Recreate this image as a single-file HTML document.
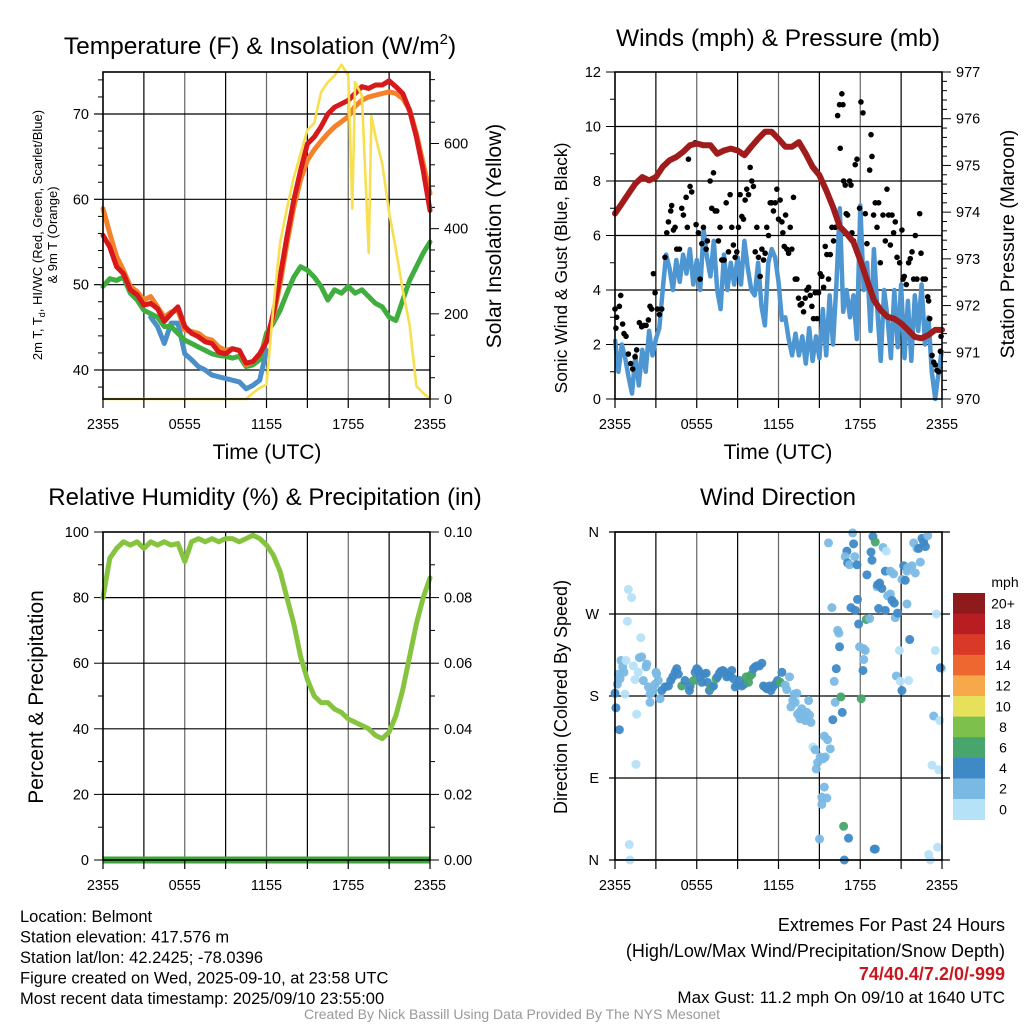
<!DOCTYPE html>
<html><head><meta charset="utf-8"><style>
body{margin:0;background:#fff;}
svg{display:block;font-family:"Liberation Sans",Arial,sans-serif;}
</style></head><body>
<svg id="fig" width="1024" height="1024" viewBox="0 0 1024 1024"></svg>
<script>
// ---------- DATA ----------
const halfHours = [];
for (let i = 0; i <= 48; i++) halfHours.push(i * 0.5);
const xTickLabels = ["2355","0555","1155","1755","2355"];
const xTickHours = [0,6,12,18,24];

const tempRed = [55.8,54.4,52.1,51.3,49.4,48.8,47.6,47.8,47.2,45.7,46.6,47.4,45.1,44.3,43.9,43.3,43.1,42.1,41.9,42.5,42.3,40.8,41.0,41.9,43.3,46.6,50.9,55.6,59.9,63.4,66.5,67.3,68.5,70.0,70.8,71.2,71.6,72.4,73.2,73.0,73.4,73.4,73.9,73.2,72.4,70.4,67.3,63.4,58.7];
const tempOrange = [58.9,56.0,53.3,51.7,49.8,49.2,48.2,48.6,47.4,46.2,46.8,47.0,44.7,44.5,44.3,43.7,43.5,42.7,42.3,42.5,42.3,40.6,41.0,41.9,43.5,46.2,50.1,54.8,59.1,62.3,64.6,65.8,66.8,67.7,68.5,69.1,69.7,70.9,71.6,72.0,72.2,72.4,72.6,72.4,71.8,70.5,67.7,64.2,60.7];
const tempGreen = [49.8,50.7,50.5,50.9,49.0,48.2,47.0,46.6,46.2,45.1,45.1,44.3,43.5,43.1,42.7,42.3,41.9,41.7,41.6,41.4,41.6,40.4,40.6,41.2,44.3,45.5,47.0,49.0,50.9,52.1,51.7,50.9,49.8,48.2,49.4,49.0,49.8,49.0,49.4,48.6,47.8,47.4,46.2,45.8,48.2,50.5,52.1,53.7,55.0];
const tempBlue = [null,null,null,null,null,null,null,46.2,45.1,43.1,45.5,45.5,41.9,41.2,40.4,40.0,39.4,39.2,39.0,38.8,38.6,37.8,38.2,38.8,42.3,null,null,null,null,null,null,null,null,null,null,null,null,null,null,null,null,null,null,null,null,null,null,null,null];
const solarHours = [0,10.5,11,11.5,12,12.5,13,13.5,14,14.5,15,15.5,16,16.5,17,17.5,18,18.3,18.5,19,19.5,19.7,20,20.5,21,21.5,22,22.5,23,23.5,24];
const solarValues = [0,0,14,26,34,214,367,447,520,576,632,648,720,744,760,785,760,447,744,712,343,664,616,552,439,351,255,174,30,14,0];

const pressure = [973.97,974.18,974.40,974.61,974.75,974.68,974.75,974.97,975.11,975.18,975.29,975.43,975.47,975.43,975.43,975.25,975.32,975.36,975.32,975.22,975.40,975.57,975.72,975.72,975.57,975.40,975.40,975.50,975.25,974.97,974.79,974.47,974.11,973.69,973.54,973.36,972.97,972.54,972.12,971.90,971.76,971.72,971.62,971.48,971.33,971.30,971.37,971.48,971.48];
const windSpeed = [2.2,1.0,2.0,1.5,0.8,0.2,1.6,0.5,1.8,1.0,2.5,1.6,2.2,2.6,4.0,5.3,4.8,4.0,5.1,4.3,5.3,4.6,5.5,4.2,5.1,4.0,6.2,5.2,4.5,5.8,4.0,3.3,5.3,4.0,5.0,4.2,5.2,4.2,5.8,4.8,4.0,3.8,5.0,3.4,2.7,5.0,5.5,5.2,4.3,2.9,3.0,2.2,1.6,2.4,1.6,2.3,1.3,2.6,1.4,2.3,1.5,3.3,1.6,3.8,2.0,4.2,7.0,3.2,4.0,3.0,3.8,2.2,7.1,4.0,5.0,2.5,5.5,3.3,1.4,4.0,3.0,1.5,4.0,1.9,4.2,1.5,3.6,1.4,3.8,2.5,4.2,2.0,3.0,1.0,0.0,1.0,1.8];
const gustHours = [0,0.07,0.12,0.32,0.42,0.56,0.66,0.81,0.98,1.15,1.30,1.47,1.59,1.79,1.96,2.13,2.28,2.45,2.57,2.69,2.82,2.94,3.11,3.26,3.43,3.67,3.80,3.92,4.09,4.16,4.29,4.41,4.53,4.73,4.90,5.02,5.22,5.31,5.39,5.51,5.63,5.88,5.95,6.12,6.25,6.37,6.49,6.69,6.78,6.98,7.10,7.23,7.35,7.47,7.59,7.71,7.84,8.01,8.16,8.33,8.45,8.57,8.69,8.82,8.94,9.06,9.18,9.31,9.43,9.55,9.67,9.80,9.92,10.04,10.16,10.29,10.41,10.53,10.65,10.78,10.90,11.02,11.14,11.27,11.39,11.51,11.63,11.76,11.88,12.0,12.12,12.25,12.32,12.42,12.52,12.61,12.74,12.86,12.98,13.10,13.23,13.35,13.47,13.59,13.71,13.84,13.96,14.08,14.21,14.33,14.45,14.57,14.70,14.82,14.94,15.06,15.18,15.31,15.43,15.55,15.67,15.80,15.92,16.04,16.16,16.34,16.48,16.65,16.73,16.53,16.78,16.90,16.97,17.07,17.22,17.32,17.39,17.51,17.63,17.76,17.95,18.05,18.20,18.37,18.49,18.69,18.79,18.86,18.98,19.10,19.23,19.35,19.47,19.67,19.84,19.96,20.08,20.21,20.33,20.45,20.57,20.70,20.89,21.06,21.14,21.23,21.38,21.55,21.67,21.80,21.92,22.04,22.16,22.36,22.46,22.61,22.78,22.95,23.02,23.10,23.27,23.39,23.51,23.63,23.76,23.93,23.88];
const gustValues = [3.3,2.6,3.0,3.4,3.8,2.75,2.4,2.3,1.65,1.3,1.1,1.55,1.8,2.8,2.65,2.7,2.7,2.9,3.4,3.3,4.6,3.9,3.3,3.1,3.3,5.2,6.1,6.5,6.9,7.1,6.2,6.3,5.5,5.5,7.0,6.75,7.4,6.3,8.8,7.8,7.6,9.4,6.4,6.1,4.4,5.7,6.3,5.5,5.8,8.0,7.0,8.3,6.9,6.9,5.8,6.3,5.1,5.1,7.2,5.4,7.5,6.3,5.65,5.2,5.4,6.3,7.5,6.7,6.6,7.3,7.7,7.5,8.5,8.0,7.8,5.4,6.3,5.2,4.5,5.5,5.1,5.35,6.3,6.0,7.2,7.2,6.9,7.2,7.7,6.6,7.3,6.5,6.1,5.6,6.75,5.5,5.35,6.3,5.5,7.4,4.4,4.4,3.7,3.45,3.5,3.2,3.7,4.0,4.1,3.8,3.4,2.95,3.9,2.95,3.9,4.6,4.5,4.1,5.6,5.3,4.4,5.3,6.3,5.8,6.3,10.4,10.8,11.2,10.8,9.2,8.0,7.85,6.8,6.75,8.0,7.85,6.1,5.8,8.6,8.8,7.0,10.9,10.5,6.8,5.7,8.4,9.7,8.9,6.75,7.2,6.3,7.2,5.0,6.75,5.8,7.7,6.75,5.65,6.75,6.1,6.5,5.2,5.0,6.2,4.4,4.5,4.2,5.0,5.15,5.4,4.4,6.0,4.4,6.8,5.35,4.4,4.4,3.75,3.6,2.95,1.6,1.35,1.25,1.05,1.0,2.3,1.75];

const rhValues = [80,92,95,97,96,97,95,97,96,97,96,96.5,91,97,98,97,98,97,98,98,97,98,99,98,96,93,88,80,72,62,55,50,48,48,46,45,43,42,41,40,38,37,39,44,52,62,72,80,86];
const precipValues = halfHours.map(()=>0);

const dirHours = [0,0.07,0.32,0.17,0.24,0.37,0.44,0.56,0.66,0.73,0.81,0.98,1.22,0.91,1.35,1.47,1.59,1.54,1.05,1.10,1.71,1.79,1.89,1.96,2.08,2.28,2.33,2.45,2.57,2.57,2.77,2.94,3.01,3.06,3.18,3.31,3.43,3.67,3.92,4.09,4.24,4.41,4.53,4.65,4.90,5.14,5.46,5.51,5.76,5.88,6.00,6.12,6.25,6.37,6.49,6.69,6.78,6.93,7.10,7.23,7.42,7.52,7.67,7.76,7.91,8.08,8.20,8.40,8.57,8.69,8.82,8.99,9.14,9.31,9.48,9.63,9.80,9.92,10.04,10.16,10.29,10.41,10.60,10.78,10.90,11.02,11.14,11.34,11.44,11.58,11.76,11.93,12.12,12.25,12.49,12.61,12.81,12.91,13.05,13.15,13.23,13.35,13.40,13.54,13.59,13.71,13.84,13.96,14.08,14.21,14.28,14.38,14.52,14.70,14.77,14.87,15.06,15.26,15.43,15.80,15.36,15.60,15.36,15.18,15.55,15.18,15.01,16.78,17.14,16.83,19.03,19.10,15.67,15.92,16.34,16.43,16.48,16.24,16.09,16.16,16.58,16.68,15.99,17.02,16.90,17.07,17.22,17.44,17.51,17.59,17.76,17.32,17.63,17.80,17.88,17.95,18.25,18.37,18.25,18.20,18.07,18.44,18.69,18.49,18.79,18.86,18.93,19.10,19.67,19.91,19.23,19.42,19.27,19.59,19.84,20.21,20.45,20.01,20.21,20.33,20.50,19.35,19.84,20.57,20.74,20.87,20.65,20.94,21.06,21.19,21.48,21.80,22.04,21.43,21.06,21.30,21.43,21.92,22.16,22.29,22.53,22.65,22.78,22.95,22.41,21.63,21.55,23.59,23.51,24.0,23.88,23.39,23.83,23.27,23.76,23.68,23.02,23.14];
const dirDegrees = [183,167,143,193,204,199,219,212,206,182,219,297,288,262,213,198,160,105,17,0,206,222,244,223,197,212,215,190,182,173,186,193,206,204,197,177,186,190,191,197,201,206,210,204,191,197,186,191,197,206,210,208,201,195,204,205,195,186,190,191,199,201,205,207,208,206,201,202,208,199,190,192,197,191,193,201,195,202,204,210,212,213,213,216,191,190,188,191,186,190,193,197,195,206,192,187,201,168,175,182,173,183,160,162,155,166,157,153,162,175,159,151,124,121,100,107,113,111,113,122,136,132,80,69,68,61,23,37,24,0,12,12,348,277,252,249,234,210,196,173,179,162,154,339,333,326,324,359,347,333,324,277,274,286,259,234,232,230,220,208,177,264,265,313,338,329,355,349,343,339,300,304,302,298,317,317,314,290,292,285,282,276,274,266,271,230,202,196,186,323,321,323,315,317,308,307,281,348,342,342,353,349,344,356,327,242,197,270,230,210,211,158,153,104,99,14,6,0];
const dirSpeeds = [5,5,5,3,3,3,3,3,3,1,1,1,1,1,1,1,1,1,1,1,1,3,1,3,3,3,3,3,3,3,3,3,3,3,3,3,5,5,5,5,5,5,5,5,7,5,5,5,7,5,5,5,5,5,5,5,5,5,7,5,7,5,5,5,5,5,5,5,5,5,5,5,5,5,5,7,7,7,7,5,5,5,5,5,5,5,5,5,5,5,5,5,7,5,3,3,3,3,3,3,3,3,3,3,3,3,3,3,3,3,3,3,1,3,3,3,3,3,3,3,3,3,3,3,3,3,3,7,5,5,5,5,3,3,3,3,5,5,3,3,7,5,5,5,3,5,3,3,5,3,5,5,5,5,5,3,3,3,3,5,7,7,3,5,5,5,5,7,3,1,3,5,5,5,5,3,3,3,3,5,5,5,5,3,5,1,3,1,5,5,3,3,3,3,3,5,3,3,3,5,5,5,5,3,3,5,1,1,1,1,5,3,1,1,1,1,1,1,1];

const speedBinLabels = ["20+","18","16","14","12","10","8","6","4","2","0"];
const speedBinColors = ["#8e1a1c","#b81d24","#d83a27","#ee6630","#f7a84b","#e6e05a","#7dc04b","#48a56c","#3f89c6","#7ab9e4","#b6e2f8"];

// ---------- HELPERS ----------
const NS = "http://www.w3.org/2000/svg";
const svg = document.getElementById("fig");
function mk(tag, attrs, parent){
  const e = document.createElementNS(NS, tag);
  for (const k in attrs) e.setAttribute(k, attrs[k]);
  (parent||svg).appendChild(e);
  return e;
}
function txt(str, x, y, size, anchor, parent, extra){
  const t = mk("text", Object.assign({x:x, y:y, "font-size":size, "text-anchor":anchor||"middle", fill:"#000"}, extra||{}), parent);
  t.textContent = str;
  return t;
}
function linScale(d0,d1,r0,r1){ return v => r0 + (v-d0)/(d1-d0)*(r1-r0); }
function pathFrom(xs, ys, sx, sy){
  let d = "", pen = false;
  for (let i=0;i<xs.length;i++){
    if (ys[i]===null || ys[i]===undefined){ pen=false; continue; }
    d += (pen?"L":"M") + sx(xs[i]).toFixed(1) + " " + sy(ys[i]).toFixed(1);
    pen = true;
  }
  return d;
}
function frame(g, L, T, R, B){
  for (let k=1;k<8;k++){
    const x = L + (R-L)*k/8;
    const ln = mk("line",{x1:x,x2:x,y1:T,y2:B,stroke:(k%2? "#000":"#666"),"stroke-width":1.2},g);
    
    
  }
}
function xAxis(g, L, R, B){
  const sx = linScale(0,24,L,R);
  for (let h=0;h<=24;h+=3){
    mk("line",{x1:sx(h),x2:sx(h),y1:B,y2:B+9,stroke:"#000","stroke-width":1.2},g);
  }
  xTickHours.forEach((h,i)=>{
    const t = txt(xTickLabels[i], sx(h), B+30, 14.5, "middle", g);
    
    
  });
}
function border(g,L,T,R,B){
  const r = mk("rect",{x:L,y:T,width:R-L,height:B-T,fill:"none",stroke:"#000","stroke-width":1.6},g);
  
  
}

// ---------- PANEL 1: Temperature ----------
(function(){
  const L=103,T=72,R=430,B=399;
  const g = mk("g",{});
  
  
  const sx = linScale(0,24,L,R);
  const sy = linScale(40,70,370,114);
  const sy2 = linScale(0,600,399,143.5);
  frame(g,L,T,R,B);
  [40,50,60,70].forEach(v=>{
    mk("line",{x1:L,x2:R,y1:sy(v),y2:sy(v),stroke:"#000","stroke-width":1.2},g);
    mk("line",{x1:L-9,x2:L,y1:sy(v),y2:sy(v),stroke:"#000","stroke-width":1.2},g);
    const t=txt(String(v),L-14,sy(v)+5,14.5,"end",g);
    
    
  });
  for (let v=38; v<=74; v+=2){ if (v%10) mk("line",{x1:L-5,x2:L,y1:sy(v),y2:sy(v),stroke:"#000"},g); }
  for (let v=0; v<=750; v+=50){
    const big = v%200===0;
    mk("line",{x1:R,x2:R+(big?9:5),y1:sy2(v),y2:sy2(v),stroke:"#000"},g);
    if (big){ const t=txt(String(v),R+14,sy2(v)+5,14.5,"start",g);
      
       }
  }
  const series = [[tempBlue,"#4a8fca","heat-index-wind-chill-line"],[tempGreen,"#3fae3f","dewpoint-line"],[tempOrange,"#f5822a","temp-9m-line"],[tempRed,"#d7191c","temp-2m-line"]];
  series.forEach(s=>{
    const p = mk("path",{d:pathFrom(halfHours,s[0],sx,sy),fill:"none",stroke:s[1],"stroke-width":5,"stroke-linejoin":"round","stroke-linecap":"round"},g);
    
    
  });
  const sp = mk("path",{d:pathFrom(solarHours,solarValues,sx,sy2),fill:"none",stroke:"#f8df4f","stroke-width":2.6,"stroke-linejoin":"round"},g);
  
  
  border(g,L,T,R,B);
  xAxis(g,L,R,B);
  const t1 = txt("Temperature (F) & Insolation (W/m",260,54,24.5,"middle",g);
  const sup = mk("tspan",{dy:-10,"font-size":15},t1); sup.textContent="2";
  const cl = mk("tspan",{dy:10},t1); cl.textContent=")";
  
  
  const xl = txt("Time (UTC)",267,459,21,"middle",g);
  
  
  const yl = mk("text",{transform:"translate(42,235) rotate(-90)","font-size":13,"text-anchor":"middle"},g);
  const a = mk("tspan",{},yl); a.textContent="2m T, T";
  const sb = mk("tspan",{"font-size":9,dy:3},yl); sb.textContent="d";
  const a2 = mk("tspan",{dy:-3},yl); a2.textContent=", HI/WC (Red, Green, Scarlet/Blue)";
  
  
  const yl2 = txt("& 9m T (Orange)",0,0,13,"middle",g,{transform:"translate(57,235) rotate(-90)"});
  
  
  const yr = txt("Solar Insolation (Yellow)",0,0,21,"middle",g,{transform:"translate(501,236) rotate(-90)"});
  
  
})();

// ---------- PANEL 2: Winds ----------
(function(){
  const L=615,T=72,R=942,B=399;
  const g = mk("g",{});
  
  
  const sx = linScale(0,24,L,R), sxq = linScale(0,96,L,R);
  const sy = linScale(0,12,B,T);
  const sy2 = linScale(970,977,B,T);
  frame(g,L,T,R,B);
  for (let v=0; v<=12; v+=2){
    if (v>0 && v<12) mk("line",{x1:L,x2:R,y1:sy(v),y2:sy(v),stroke:"#000","stroke-width":1.2},g);
    mk("line",{x1:L-9,x2:L,y1:sy(v),y2:sy(v),stroke:"#000"},g);
    const t=txt(String(v),L-14,sy(v)+5,14.5,"end",g);
    
    
  }
  for (let v=1; v<12; v+=2) mk("line",{x1:L-5,x2:L,y1:sy(v),y2:sy(v),stroke:"#000"},g);
  for (let k=0; k<=35; k++){
    const v = 970 + k*0.2;
    const big = k%5===0;
    mk("line",{x1:R,x2:R+(big?9:5),y1:sy2(v),y2:sy2(v),stroke:"#000"},g);
    if (big){ const t=txt(String(970+k/5),R+14,sy2(v)+5,14.5,"start",g);
      
       }
  }
  const idx = windSpeed.map((_,i)=>i);
  const wp = mk("path",{d:pathFrom(idx,windSpeed,sxq,sy),fill:"none",stroke:"#4d96d1","stroke-width":4.5,"stroke-linejoin":"round"},g);
  
  
  gustHours.forEach((h,i)=>{
    const c = mk("circle",{cx:sx(h),cy:sy(gustValues[i]),r:2.8,fill:"#000"},g);
    
    
  });
  const pp = mk("path",{d:pathFrom(halfHours,pressure,sx,sy2),fill:"none",stroke:"#a01c1c","stroke-width":6,"stroke-linejoin":"round","stroke-linecap":"round"},g);
  
  
  border(g,L,T,R,B);
  xAxis(g,L,R,B);
  const t = txt("Winds (mph) & Pressure (mb)",778,46,24.5,"middle",g);
  
  
  const xl = txt("Time (UTC)",778,459,21,"middle",g);
  
  
  const yl = txt("Sonic Wind & Gust (Blue, Black)",0,0,17.5,"middle",g,{transform:"translate(567,268) rotate(-90)"});
  
  
  const yr = txt("Station Pressure (Maroon)",0,0,19.5,"middle",g,{transform:"translate(1014,244) rotate(-90)"});
  
  
})();

// ---------- PANEL 3: RH ----------
(function(){
  const L=103,T=532,R=430,B=860;
  const g = mk("g",{});
  
  
  const sx = linScale(0,24,L,R);
  const sy = linScale(0,100,B,T);
  const sy2 = linScale(0,0.1,B,T);
  frame(g,L,T,R,B);
  for (let v=0; v<=100; v+=20){
    if (v>0 && v<100) mk("line",{x1:L,x2:R,y1:sy(v),y2:sy(v),stroke:"#000","stroke-width":1.2},g);
    mk("line",{x1:L-9,x2:L,y1:sy(v),y2:sy(v),stroke:"#000"},g);
    const t=txt(String(v),L-14,sy(v)+5,14.5,"end",g);
    
    
    mk("line",{x1:R,x2:R+9,y1:sy(v),y2:sy(v),stroke:"#000"},g);
    const t2=txt((v/1000).toFixed(2),R+14,sy(v)+5,14.5,"start",g);
    
    
  }
  for (let v=10; v<100; v+=20){ mk("line",{x1:L-5,x2:L,y1:sy(v),y2:sy(v),stroke:"#000"},g); mk("line",{x1:R,x2:R+5,y1:sy(v),y2:sy(v),stroke:"#000"},g); }
  const rp = mk("path",{d:pathFrom(halfHours,rhValues,sx,sy),fill:"none",stroke:"#86c440","stroke-width":5,"stroke-linejoin":"round","stroke-linecap":"round"},g);
  
  
  const pr = mk("path",{d:pathFrom(halfHours,precipValues,sx,sy2),fill:"none",stroke:"#3aa63a","stroke-width":7},g);
  
  
  border(g,L,T,R,B);
  xAxis(g,L,R,B);
  const t = txt("Relative Humidity (%) & Precipitation (in)",265,505,24,"middle",g);
  
  
  const yl = txt("Percent & Precipitation",0,0,21,"middle",g,{transform:"translate(43,697) rotate(-90)"});
  
  
})();

// ---------- PANEL 4: Wind Direction ----------
(function(){
  const L=615,T=532,R=942,B=860;
  const g = mk("g",{});
  
  
  const sx = linScale(0,24,L,R);
  const sy = linScale(0,360,B,T);
  frame(g,L,T,R,B);
  const dl = ["N","E","S","W","N"];
  for (let k=0;k<=4;k++){
    const v=k*90;
    mk("line",{x1:L-6,x2:R+8,y1:sy(v),y2:sy(v),stroke:"#000","stroke-width":1.2},g);
    const t=txt(dl[k],L-16,sy(v)+5,14.5,"end",g);
    
    
  }
  dirHours.forEach((h,i)=>{
    const bin = Math.min(10, Math.floor(dirSpeeds[i]/2));
    const c = mk("circle",{cx:sx(h),cy:sy(dirDegrees[i]),r:4.5,fill:speedBinColors[10-bin],"fill-opacity":0.95},g);
    
    
  });
  border(g,L,T,R,B);
  xAxis(g,L,R,B);
  const t = txt("Wind Direction",778,505,24,"middle",g);
  
  
  const yl = txt("Direction (Colored By Speed)",0,0,18,"middle",g,{transform:"translate(567,697) rotate(-90)"});
  
  
  const cb = mk("g",{},g);
  
  
  const top=593, h=20.6;
  speedBinColors.forEach((c,i)=>{
    const r = mk("rect",{x:953,y:top+i*h,width:32,height:h+0.5,fill:c},cb);
    
    
    const t = txt(speedBinLabels[i],1003,top+i*h+h/2+5,14,"middle",cb);
    
    
  });
  const u = txt("mph",1005,587,14,"middle",cb);
  
  
})();

// ---------- TEXT ----------
const leftLines = ["Location: Belmont","Station elevation: 417.576 m","Station lat/lon: 42.2425; -78.0396","Figure created on Wed, 2025-09-10, at 23:58 UTC","Most recent data timestamp: 2025/09/10 23:55:00"];
leftLines.forEach((s,i)=>{
  const t = txt(s,20,922+i*20.5,16.5,"start");
  
  
});
const r1 = txt("Extremes For Past 24 Hours",1005,931,18,"end");


const r2 = txt("(High/Low/Max Wind/Precipitation/Snow Depth)",1005,957,18,"end");


const r3 = txt("74/40.4/7.2/0/-999",1005,980,18,"end",null,{fill:"#c8171e","font-weight":"bold"});


const r4 = txt("Max Gust: 11.2 mph On 09/10 at 1640 UTC",1005,1003,17,"end");


const cr = txt("Created By Nick Bassill Using Data Provided By The NYS Mesonet",512,1019,14,"middle",null,{fill:"#999"});


</script>
</body></html>
